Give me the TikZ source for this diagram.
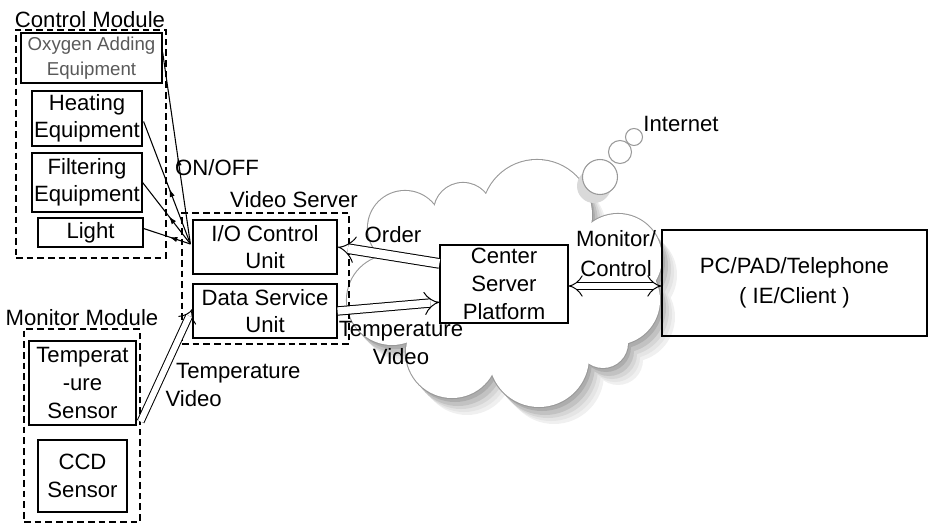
\documentclass[tikz,border=0pt]{standalone}
\usepackage{fontspec}
\setmainfont{Liberation Sans}
\usetikzlibrary{arrows.meta,decorations.markings,calc}
\newdimen\pxu \pxu=0.75pt
\begin{document}
\begin{tikzpicture}[x=0.75pt,y=-0.75pt,
  font=\fontsize{16.6}{20.5}\selectfont,
  box/.style={draw=black, line width=0.9pt, inner sep=0pt, align=center},
  dbox/.style={draw=black, line width=0.8pt, dash pattern=on 5pt off 3pt, inner sep=0pt},
  lbl/.style={inner sep=0pt, align=center},
  ctl/.style={line width=0.8pt, postaction={decorate},
    decoration={markings, mark=at position 0.45 with {\arrow{Latex[length=6pt,width=4pt]}}}},
  hollow/.style={draw=black, double=white, line width=0.75pt, double distance=6pt, -{Implies[scale=1.25]}},
  cloudline/.style={draw=black!40, line width=1.6pt},
  bubble/.style={draw=black!40, fill=white, line width=0.8pt}
]
\useasboundingbox (0,0) rectangle (929,524);

% ---------- cloud ----------
\def\cloudspec{405/228/37, 463/212/29, 537/215/55, 618/258/44, 615/300/45, 603/343/25, 539/357/50, 452/352/46, 392/300/45}
\def\cloudpoly{(380,262) -- (440,215) -- (487,206) -- (588,225) -- (650,280) -- (622,338) -- (583,360) -- (495,350) -- (412,342) -- cycle}
% shadow layers
\foreach \dx/\dy/\sh in {15/17/6, 12/14/10, 9/11/16, 6/8/24, 3/4/32}{
  \begin{scope}[shift={(\dx,\dy)}]
    \foreach \cx/\cy/\r in \cloudspec { \fill[black!\sh] (\cx,\cy) circle[radius=\r]; }
    \fill[black!\sh] \cloudpoly;
  \end{scope}
}
\foreach \cx/\cy/\r in \cloudspec { \path[cloudline] (\cx,\cy) circle[radius=\r]; }
\foreach \cx/\cy/\r in \cloudspec { \fill[white] (\cx,\cy) circle[radius=\r]; }
\fill[white] \cloudpoly;
% thought bubbles
\fill[black!15] (594,186) circle[radius=17];
\path[bubble] (600,177) circle[radius=17.5];
\path[bubble] (620,152) circle[radius=11.5];
\path[bubble] (634,137) circle[radius=8.5];
\node[lbl] (inet) at (681,124) {Internet};

% ---------- control module ----------
\node[dbox, minimum width=150\pxu, minimum height=228\pxu] (ctrlmod) at (91,144) {};
\node[lbl] (ctrllbl) at (90,20) {Control Module};
\node[box, minimum width=141\pxu, minimum height=50\pxu, text=black!65,
      font=\fontsize{14}{18.5}\selectfont] (oxy) at (91.5,58) {Oxygen Adding\\Equipment};
\node[box, minimum width=110\pxu, minimum height=55\pxu] (heat) at (87,118.5) {Heating\\Equipment};
\node[box, minimum width=110\pxu, minimum height=59\pxu] (filt) at (87,182.5) {Filtering\\Equipment};
\node[box, minimum width=105\pxu, minimum height=29\pxu] (light) at (90.5,232.5) {Light};

% ---------- video server ----------
\node[dbox, minimum width=167\pxu, minimum height=131\pxu] (vsmod) at (265.5,278.5) {};
\node[lbl] (vslbl) at (294,200) {Video Server};
\node[box, fill=white, minimum width=144\pxu, minimum height=54\pxu] (io) at (265,247) {I/O Control\\Unit};
\node[box, fill=white, minimum width=144\pxu, minimum height=54\pxu] (dsu) at (265,311) {Data Service\\Unit};

% ---------- monitor module ----------
\node[dbox, minimum width=116\pxu, minimum height=193\pxu] (monmod) at (82,425.5) {};
\node[lbl] (monlbl) at (82,318) {Monitor Module};
\node[box, minimum width=107\pxu, minimum height=84\pxu,
      font=\fontsize{16.6}{21}\selectfont] (ts) at (82.5,383) {Temperat\\-ure\\Sensor};
\node[box, minimum width=89\pxu, minimum height=72\pxu,
      font=\fontsize{16.6}{21.5}\selectfont] (ccd) at (82.5,476) {CCD\\Sensor};

% ---------- center server & client ----------
\node[box, fill=white, minimum width=128\pxu, minimum height=78\pxu,
      font=\fontsize{16.6}{21}\selectfont] (cs) at (504,284) {Center\\Server\\Platform};
\node[box, minimum width=265\pxu, minimum height=106\pxu,
      font=\fontsize{16.6}{22.5}\selectfont] (pc) at (794.5,283) {PC/PAD/Telephone\\( IE/Client )};

% ---------- control connectors ----------
\coordinate (hub) at ($(io.west)+(-2,-3)$);
\draw[ctl] (hub) -- ($(oxy.east)+(0,-6)$);
\draw[ctl] (hub) -- ($(heat.east)+(1,3)$);
\draw[ctl] (hub) -- (filt.east);
\draw[ctl] (hub) -- ($(light.east)+(0,-4)$);
\node[lbl] (onoff) at (217,168) {ON/OFF};

% ---------- data connectors ----------
\draw[hollow, double distance=6.5pt] ($(cs.north west)!0.24!(cs.south west)$) -- (io.east);
\node[lbl] (order) at (393,235) {Order};
\draw[hollow, double distance=5.5pt, -{Implies[scale=1.4]}] (dsu.east) -- ($(cs.north west)!0.73!(cs.south west)$);
\node[lbl] (tv1) at (401,343) {Temperature\\Video};
\draw[hollow, double distance=4.5pt] ($(ts.south east)+(4,-4)$) -- ($(dsu.west)+(0,-2)$);
\node[lbl, align=left] (tv2) at (233,385) {\hspace*{8pt}Temperature\\Video};
\draw[hollow, double distance=5pt, {Implies[scale=1.25]}-{Implies[scale=1.25]}] ($(cs.east)+(0,2)$) -- ($(pc.west)+(0,3)$);
\node[lbl] (mc) at (616,254) {Monitor/\\[2pt]Control};
\end{tikzpicture}
\end{document}
